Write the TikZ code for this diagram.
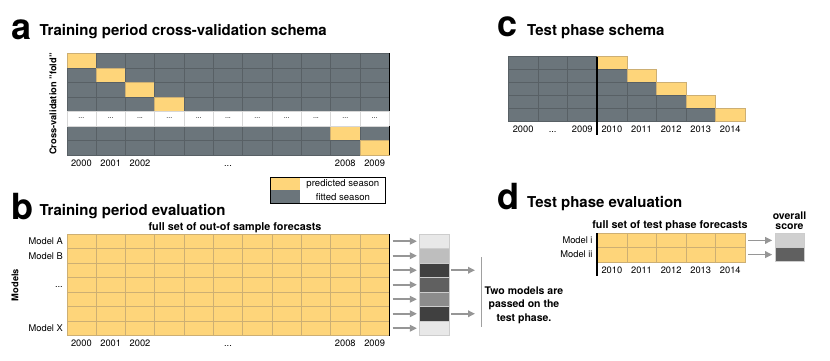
\documentclass[tikz,border=0pt]{standalone}
\usepackage{fontspec}
\setmainfont{TeX Gyre Heros}
\usetikzlibrary{arrows.meta}
\definecolor{fitgray}{RGB}{107,117,123}
\definecolor{gridln}{RGB}{88,96,101}
\definecolor{predyel}{RGB}{254,213,122}
\definecolor{yelln}{RGB}{205,175,115}
\definecolor{arrgray}{RGB}{150,150,150}
\definecolor{dotln}{RGB}{215,215,215}
\definecolor{scoreln}{RGB}{205,205,205}
\definecolor{sA}{RGB}{232,232,232}
\definecolor{sB}{RGB}{190,190,190}
\definecolor{sC}{RGB}{64,64,64}
\definecolor{sD}{RGB}{96,96,96}
\definecolor{sE}{RGB}{140,140,140}
\definecolor{sF}{RGB}{208,208,208}
\definecolor{vlgray}{RGB}{160,160,160}
\begin{document}
\begin{tikzpicture}[x=1pt,y=-1pt,
  panelletter/.style={font=\fontsize{36}{36}\selectfont\bfseries, anchor=base west, inner sep=0pt},
  paneltitle/.style={font=\fontsize{15}{18}\selectfont\bfseries, anchor=base west, inner sep=0pt},
  yearlbl/.style={font=\fontsize{9.3}{11}\selectfont, anchor=base, inner sep=0pt},
  modellbl/.style={font=\fontsize{9.3}{11}\selectfont, anchor=east, inner sep=0pt},
  axislbl/.style={font=\fontsize{9.3}{11}\selectfont\bfseries, rotate=90, inner sep=0pt},
  subttl/.style={font=\fontsize{10.8}{12}\selectfont\bfseries, anchor=base, inner sep=0pt},
  legtxt/.style={font=\fontsize{9.6}{11}\selectfont, inner sep=0pt},
  dotstxt/.style={font=\fontsize{7}{8}\selectfont, inner sep=0pt},
  scorecell/.style={draw=scoreln, line width=0.5pt, minimum width=30pt, minimum height=14.5pt, inner sep=0pt, outer sep=0pt},
  scorecelld/.style={draw=scoreln, line width=0.5pt, minimum width=29pt, minimum height=14.2pt, inner sep=0pt, outer sep=0pt},
  garrow/.style={draw=arrgray, line width=1.7pt, -{Triangle[length=7pt,width=6.5pt]}},
  foldline/.style={line width=1.5pt, draw=black},
  thinv/.style={line width=0.6pt, draw=vlgray}
]
\useasboundingbox (0,0) rectangle (830,361);

% ================= Panel a =================
\node[panelletter] (la) at (11,39.5) {a};
\node[paneltitle] (ta) at (39.3,35.7) {Training period cross-validation schema};
\foreach \r in {1,2,3,4,6,7}{
  \foreach \c in {1,...,11}{
    \pgfmathsetmacro{\xx}{66.7+(\c-1)*29.33}
    \pgfmathsetmacro{\yy}{53.3+(\r-1)*14.5}
    \def\fc{fitgray}\def\dc{gridln}
    \ifnum\r<5 \ifnum\c=\r \def\fc{predyel}\def\dc{yelln}\fi\fi
    \ifnum\r=6 \ifnum\c=10 \def\fc{predyel}\def\dc{yelln}\fi\fi
    \ifnum\r=7 \ifnum\c=11 \def\fc{predyel}\def\dc{yelln}\fi\fi
    \path[fill=\fc, draw=\dc, line width=0.4pt] (\xx,\yy) rectangle ++(29.33,14.5);
  }
}
\foreach \c in {1,...,11}{
  \pgfmathsetmacro{\xx}{66.7+(\c-1)*29.33}
  \path[fill=white, draw=dotln, line width=0.4pt] (\xx,111.3) rectangle ++(29.33,14.5);
  \node[dotstxt] (adots\c) at (\xx+14.66,118.5) {...};
}
\draw[foldline] (389.3,53.3) -- (389.3,111.3);
\draw[foldline] (389.3,125.8) -- (389.3,154.8);
\node[axislbl] (cvl) at (53,104) {Cross-validation "fold"};
\node[yearlbl] (ay1) at (81.4,166) {2000};
\node[yearlbl] (ay2) at (110.7,166) {2001};
\node[yearlbl] (ay3) at (140.0,166) {2002};
\node[yearlbl] (ay4) at (228.0,166) {...};
\node[yearlbl] (ay5) at (345.3,166) {2008};
\node[yearlbl] (ay6) at (374.6,166) {2009};

% legend
\path[fill=predyel] (270.7,177.3) rectangle (300,190.3);
\path[fill=fitgray] (270.7,190.3) rectangle (300,203.3);
\draw[line width=0.6pt] (270.7,177.3) rectangle (385.7,203.3);
\node[legtxt] (lg1) at (342.9,184) {predicted season};
\node[legtxt] (lg2) at (342.9,197) {fitted season};

% ================= Panel b =================
\node[panelletter] (lb) at (11,219) {b};
\node[paneltitle] (tb) at (39.3,215) {Training period evaluation};
\node[subttl] (sb) at (235,230) {full set of out-of sample forecasts};
\foreach \r in {1,...,7}{
  \foreach \c in {1,...,11}{
    \pgfmathsetmacro{\xx}{66.7+(\c-1)*29.33}
    \pgfmathsetmacro{\yy}{234+(\r-1)*14.5}
    \path[fill=predyel, draw=yelln, line width=0.4pt] (\xx,\yy) rectangle ++(29.33,14.5);
  }
}
\draw[foldline] (389.3,234) -- (389.3,335.5);
\node[modellbl] (mA) at (63,241.25) {Model A};
\node[modellbl] (mB) at (63,255.75) {Model B};
\node[modellbl] (mdots) at (63,287) {...};
\node[modellbl] (mX) at (63,328.25) {Model X};
\node[axislbl] (modl) at (15,285) {Models};
\node[yearlbl] (by1) at (81.4,346.6) {2000};
\node[yearlbl] (by2) at (110.7,346.6) {2001};
\node[yearlbl] (by3) at (140.0,346.6) {2002};
\node[yearlbl] (by4) at (228.0,346.6) {...};
\node[yearlbl] (by5) at (345.3,346.6) {2008};
\node[yearlbl] (by6) at (374.6,346.6) {2009};

\foreach \r/\col in {1/sA,2/sB,3/sC,4/sD,5/sE,6/sC,7/sA}{
  \pgfmathsetmacro{\yc}{234+(\r-0.5)*14.5}
  \coordinate (bre\r) at (392.5,\yc);
  \node[scorecell, fill=\col] (sc\r) at (434.3,\yc) {};
  \draw[garrow, shorten >=2.4pt] (bre\r) -- (sc\r.west);
}
\coordinate (pt3) at (475,270.25);
\coordinate (pt6) at (475,313.75);
\draw[garrow, shorten <=1.8pt] (sc3.east) -- (pt3);
\draw[garrow, shorten <=1.8pt] (sc6.east) -- (pt6);
\coordinate (vl1) at (481.7,257);
\coordinate (vl2) at (481.7,327);
\draw[thinv] (vl1) -- (vl2);
\node[font=\fontsize{10.5}{13.5}\selectfont\bfseries, align=center, inner sep=0pt] (pass) at (524,305) {Two models are\\passed on the\\test phase.};

% ================= Panel c =================
\node[panelletter] (lc) at (497,36.7) {c};
\node[paneltitle] (tc) at (527,35.7) {Test phase schema};
\foreach \r in {1,...,5}{
  \pgfmathsetmacro{\yy}{56.7+(\r-1)*12.86}
  \pgfmathtruncatemacro{\ng}{2+\r}
  \foreach \c in {1,...,\ng}{
    \pgfmathsetmacro{\xx}{508.3+(\c-1)*29.6}
    \path[fill=fitgray, draw=gridln, line width=0.4pt] (\xx,\yy) rectangle ++(29.6,12.86);
  }
  \pgfmathsetmacro{\xy}{508.3+\ng*29.6}
  \path[fill=predyel, draw=yelln, line width=0.4pt] (\xy,\yy) rectangle ++(29.6,12.86);
}
\draw[foldline] (597.1,56.7) -- (597.1,135);
\node[yearlbl] (cy1) at (523.1,132.6) {2000};
\node[yearlbl] (cy2) at (552.7,132.6) {...};
\node[yearlbl] (cy3) at (582.3,132.6) {2009};
\node[yearlbl] (cy4) at (611.9,132.6) {2010};
\node[yearlbl] (cy5) at (641.5,132.6) {2011};
\node[yearlbl] (cy6) at (671.1,132.6) {2012};
\node[yearlbl] (cy7) at (700.7,132.6) {2013};
\node[yearlbl] (cy8) at (730.3,132.6) {2014};

% ================= Panel d =================
\node[panelletter] (ld) at (497,209.3) {d};
\node[paneltitle] (td) at (527,207.7) {Test phase evaluation};
\node[subttl] (sd) at (670,228) {full set of test phase forecasts};
\node[font=\fontsize{10.5}{9.5}\selectfont\bfseries, align=center, inner sep=0pt, anchor=south] (ovs) at (789.5,229.5) {overall\\score};
\foreach \r in {1,2}{
  \foreach \c in {1,...,5}{
    \pgfmathsetmacro{\xx}{597.1+(\c-1)*29.6}
    \pgfmathsetmacro{\yy}{233.3+(\r-1)*14.2}
    \path[fill=predyel, draw=yelln, line width=0.4pt] (\xx,\yy) rectangle ++(29.6,14.2);
  }
}
\draw[foldline] (597.1,233.3) -- (597.1,276);
\node[modellbl] (mi) at (592.7,240.4) {Model i};
\node[modellbl] (mii) at (592.7,254.6) {Model ii};
\node[yearlbl] (dy1) at (611.9,273.3) {2010};
\node[yearlbl] (dy2) at (641.5,273.3) {2011};
\node[yearlbl] (dy3) at (671.1,273.3) {2012};
\node[yearlbl] (dy4) at (700.7,273.3) {2013};
\node[yearlbl] (dy5) at (730.3,273.3) {2014};
\coordinate (dre1) at (748,240.4);
\coordinate (dre2) at (748,254.6);
\node[scorecelld, fill=sF] (ds1) at (789.5,240.4) {};
\node[scorecelld, fill=sD] (ds2) at (789.5,254.6) {};
\draw[garrow, shorten >=2.8pt] (dre1) -- (ds1.west);
\draw[garrow, shorten >=2.8pt] (dre2) -- (ds2.west);
\end{tikzpicture}
\end{document}
